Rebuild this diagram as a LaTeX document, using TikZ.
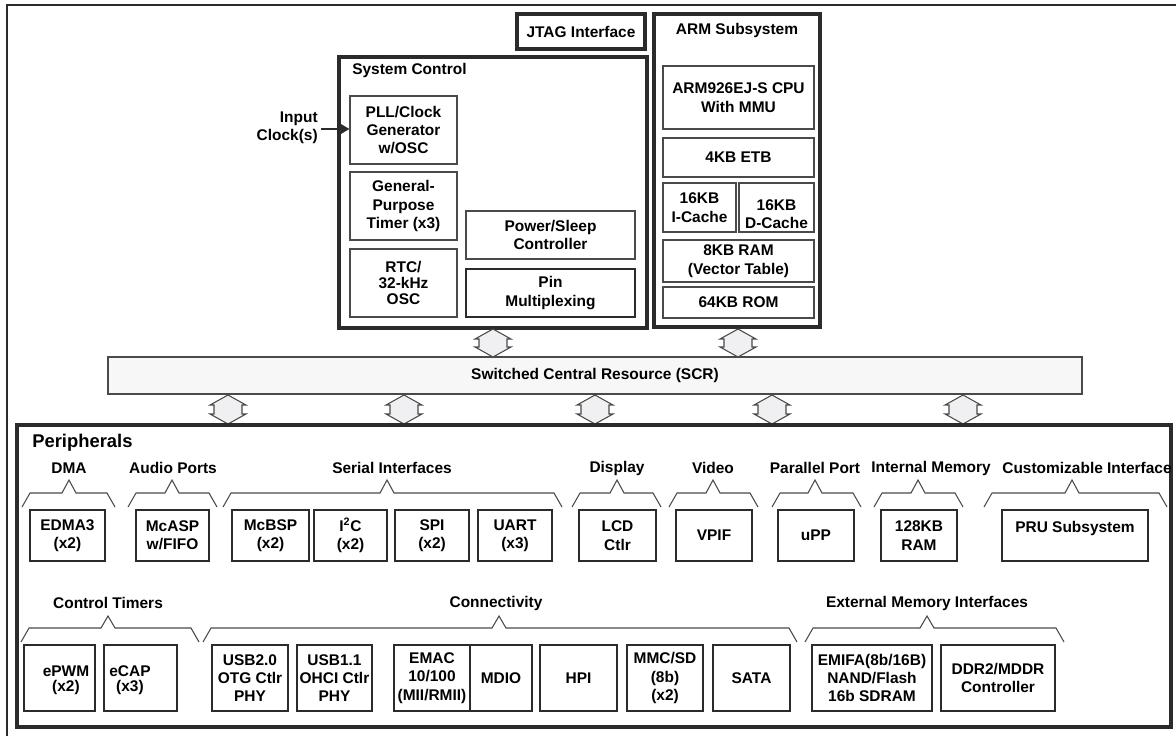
\documentclass[tikz,border=0pt]{standalone}
\usepackage{fontspec}
\setmainfont{Liberation Sans}
\usetikzlibrary{arrows.meta}
\definecolor{dk}{HTML}{2B2B2B}
\definecolor{md}{HTML}{4A4A4A}
\definecolor{lg}{HTML}{F0F0F2}
\definecolor{bar}{HTML}{F7F7F7}
\newcommand\lbl{\bfseries\fontsize{11.6}{13.8}\selectfont}
\newcommand\lblt{\bfseries\fontsize{11.6}{12}\selectfont}
\newcommand\lbltt{\bfseries\fontsize{11.6}{11.2}\selectfont}
\newcommand\bx[7]{\node[#6, minimum width={(#4-#2)*0.75pt}, minimum height={(#5-#3)*0.75pt}] (#1) at ({(#2+#4)/2},{(#3+#5)/2}) {#7};}
\newcommand\brc[6]{\draw[brc] (#1,#4) -- ({#1+8},#5) -- ({#3-7},#5) -- (#3,#6) -- ({#3+7},#5) -- ({#2-8},#5) -- (#2,#4);}
\newcommand\dbl[3]{\draw[dbl] (#1,#2) -- ({#1+18},{#2+10}) -- ({#1+14},{#2+10}) -- ({#1+14},{#3-10}) -- ({#1+18},{#3-10}) -- (#1,#3) -- ({#1-18},{#3-10}) -- ({#1-14},{#3-10}) -- ({#1-14},{#2+10}) -- ({#1-18},{#2+10}) -- cycle;}
\begin{document}
\begin{tikzpicture}[x=0.75pt,y=-0.75pt,
  bigbox/.style={draw=dk, line width=2.8pt, inner sep=0pt, align=center, font=\lbl},
  medbox/.style={draw=dk, line width=1.9pt, align=center, font=\lbl, inner sep=0pt},
  smallbox/.style={draw=md, line width=0.9pt, align=center, font=\lbl, inner sep=0pt},
  lab/.style={font=\lbl, align=center, inner sep=0pt},
  brc/.style={draw=md, line width=0.8pt},
  dbl/.style={draw=md, fill=lg, line width=0.8pt, line join=miter},
]
\useasboundingbox (0,0) rectangle (1176,736);
% outer frame
\draw[draw=dk, line width=1.5pt] (7,736) -- (7,5) -- (1176,5);

% JTAG
\bx{jtag}{517}{14}{645}{49}{bigbox}{JTAG Interface}

% System control
\bx{sysctl}{339}{57}{647}{328}{bigbox}{}
\node[lab, anchor=west] (sctitle) at (352,70) {System Control};
\bx{pll}{350}{96}{457}{164}{smallbox}{PLL/Clock\\Generator\\w/OSC}
\bx{gpt}{350}{172}{457}{240}{smallbox}{General-\\Purpose\\Timer (x3)}
\bx{rtc}{350}{249}{457}{317}{smallbox,font=\lblt}{RTC/\\32-kHz\\OSC}
\bx{pwr}{466}{211}{635}{259}{smallbox}{Power/Sleep\\Controller}
\bx{pin}{466}{269}{635}{317}{medbox}{Pin\\Multiplexing}
\node[lab, anchor=east, align=right] (inclk) at (318,128) {Input\\Clock(s)};
\coordinate (clkin) at (321,129);
\draw[draw=dk, line width=1pt, -{Triangle[length=7pt,width=8pt]}] (clkin) -- (pll.west |- clkin);

% ARM subsystem
\bx{arm}{654}{14}{820}{327}{bigbox}{}
\node[lab] (armtitle) at (737,30) {ARM Subsystem};
\bx{cpu}{663}{66}{814}{129}{smallbox}{ARM926EJ-S CPU\\With MMU}
\bx{etb}{663}{138}{814}{177}{smallbox}{4KB ETB}
\bx{icache}{663}{183}{736}{232}{smallbox}{16KB\\I-Cache}
\bx{dcache}{739}{183}{814}{232}{smallbox}{\rule{0pt}{18pt}16KB\\D-Cache}
\bx{ram8}{663}{240}{814}{282}{smallbox}{8KB RAM\\(Vector Table)}
\bx{rom}{663}{287}{814}{318}{smallbox}{64KB ROM}

% SCR
\bx{scr}{108}{357}{1082}{394}{draw=md, fill=bar, line width=0.8pt, font=\lbl, inner sep=0pt}{Switched Central Resource (SCR)}

% double arrows
\dbl{493}{329}{357}
\dbl{738}{329}{357}
\dbl{228}{395}{424}
\dbl{404}{395}{424}
\dbl{595}{395}{424}
\dbl{772}{395}{424}
\dbl{963}{395}{424}

% Peripherals
\bx{periph}{17}{425}{1171}{727}{bigbox}{}
\node[font=\bfseries\fontsize{13.8}{16}\selectfont, anchor=west, inner sep=0pt] (pertitle) at (32,443) {Peripherals};

% row 1 labels
\node[lab] (ldma) at (69,468) {DMA};
\node[lab] (laud) at (173,468) {Audio Ports};
\node[lab] (lser) at (392,468) {Serial Interfaces};
\node[lab] (ldisp) at (617,468) {Display};
\node[lab] (lvid) at (713,468) {Video};
\node[lab] (lpar) at (815,468) {Parallel Port};
\node[lab] (limem) at (931,468) {Internal Memory};
\node[lab] (lcust) at (1087,468) {Customizable Interface};

% row 1 braces
\brc{22}{115}{69}{507}{493}{480}
\brc{128}{217}{172}{507}{493}{480}
\brc{223}{562}{387}{507}{493}{480}
\brc{572}{661}{617}{507}{493}{480}
\brc{669}{758}{713}{507}{493}{480}
\brc{772}{861}{815}{507}{493}{480}
\brc{874}{963}{918}{507}{493}{480}
\brc{984}{1167}{1072}{507}{493}{480}

% row 1 boxes
\bx{edma}{30}{510}{105}{561}{medbox}{EDMA3\\(x2)}
\bx{mcasp}{136}{510}{209}{561}{medbox}{McASP\\w/FIFO}
\bx{mcbsp}{232}{510}{309}{561}{medbox}{McBSP\\(x2)}
\bx{iic}{314}{510}{387}{561}{medbox}{I\textsuperscript{2}C\\(x2)}
\bx{spi}{395}{510}{469}{561}{medbox}{SPI\\(x2)}
\bx{uart}{478}{510}{552}{561}{medbox}{UART\\(x3)}
\bx{lcd}{579}{510}{656}{561}{medbox}{LCD\\Ctlr}
\bx{vpif}{676}{510}{752}{561}{medbox}{VPIF}
\bx{upp}{778}{510}{854}{561}{medbox}{uPP}
\bx{ram128}{881}{510}{957}{561}{medbox}{128KB\\RAM}
\bx{pru}{1002}{510}{1148}{561}{medbox}{}
\node[lab] (prutext) at (1075,528) {PRU Subsystem};

% row 2 labels
\node[lab] (lctl) at (108,603) {Control Timers};
\node[lab] (lcon) at (496,603) {Connectivity};
\node[lab] (lext) at (927,603) {External Memory Interfaces};

% row 2 braces
\brc{21}{199}{108}{642}{628}{616}
\brc{203}{797}{499}{642}{628}{616}
\brc{805}{1064}{927}{642}{628}{616}

% row 2 boxes
\bx{epwm}{24}{645}{95}{711}{medbox}{}
\node[lab, font=\lbltt] (epwmtext) at (66,680) {ePWM\\(x2)};
\bx{ecap}{104}{645}{177}{711}{medbox}{}
\node[lab, font=\lbltt] (ecaptext) at (130,680) {eCAP\\(x3)};
\bx{usb2}{212}{645}{288}{711}{medbox}{USB2.0\\OTG Ctlr\\PHY}
\bx{usb1}{297}{645}{372}{711}{medbox}{USB1.1\\OHCI Ctlr\\PHY}
\bx{emac}{394}{645}{470}{711}{medbox}{EMAC\\10/100\\(MII/RMII)}
\bx{mdio}{470}{645}{532}{711}{medbox}{MDIO}
\bx{hpi}{540}{645}{617}{711}{medbox}{HPI}
\bx{mmc}{627}{645}{703}{711}{medbox}{MMC/SD\\(8b)\\(x2)}
\bx{sata}{713}{645}{790}{711}{medbox}{SATA}
\bx{emifa}{812}{645}{932}{711}{medbox}{EMIFA(8b/16B)\\NAND/Flash\\16b SDRAM}
\bx{ddr}{941}{645}{1055}{711}{medbox}{DDR2/MDDR\\Controller}
\end{tikzpicture}
\end{document}
